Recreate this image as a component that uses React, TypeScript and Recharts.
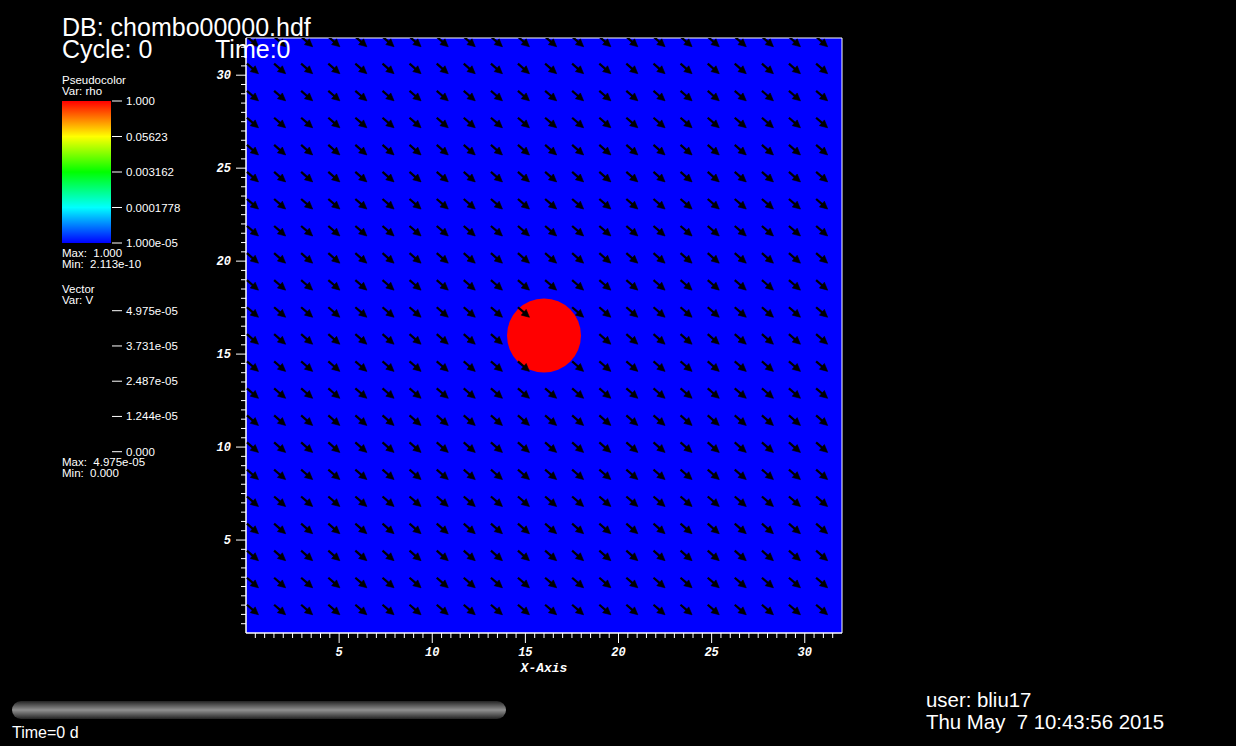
import React from 'react';
import { ScatterChart, Scatter, XAxis, YAxis, ReferenceArea, ReferenceLine } from 'recharts';

// mesh extent, same on both axes
const DOMAIN: [number, number] = [0, 32];
const MAJOR_TICKS = [5, 10, 15, 20, 25, 30];
const MINOR_TICKS = [
  0.5, 1, 1.5, 2, 2.5, 3, 3.5, 4, 4.5, 5, 5.5, 6, 6.5, 7, 7.5, 8, 8.5, 9, 9.5, 10, 10.5,
  11, 11.5, 12, 12.5, 13, 13.5, 14, 14.5, 15, 15.5, 16, 16.5, 17, 17.5, 18, 18.5, 19, 19.5,
  20, 20.5, 21, 21.5, 22, 22.5, 23, 23.5, 24, 24.5, 25, 25.5, 26, 26.5, 27, 27.5, 28, 28.5,
  29, 29.5, 30, 30.5, 31, 31.5,
];

// rho: dense blob in a near-empty box
const BLOB = [{ x: 16, y: 16, rho: 1.0 }];

// vector glyph tails (sampled points)
const ARROW_X = [0.05, 1.51, 2.96, 4.42, 5.87, 7.33, 8.78, 10.24, 11.69, 13.15, 14.6, 16.06, 17.51, 18.97, 20.42, 21.88, 23.33, 24.79, 26.24, 27.7, 29.15, 30.61];
const ARROW_Y = [32.07, 30.62, 29.16, 27.71, 26.25, 24.8, 23.34, 21.89, 20.43, 18.98, 17.52, 16.07, 14.61, 13.16, 11.7, 10.25, 8.79, 7.34, 5.88, 4.43, 2.97, 1.52];
// uniform V field, glyph size in axis units
const GLYPH_U = 0.62;
const GLYPH_V = -0.54;
// [col, row] samples inside the blob where V = 0 (no glyph)
const ZERO_V = [[11, 10], [10, 11], [11, 11], [12, 11], [11, 12]];

// legends
const RHO_LABELS = ['1.000', '0.05623', '0.003162', '0.0001778', '1.000e-05'];
const RHO_VALUES = [1, 0.05623, 0.003162, 0.0001778, 0.00001];
const V_LABELS = ['4.975e-05', '3.731e-05', '2.487e-05', '1.244e-05', '0.000'];
const V_VALUES = [4.975e-5, 3.731e-5, 2.487e-5, 1.244e-5, 0];

const SANS = "'Liberation Sans', Arial, sans-serif";
const MONO = "'Liberation Mono', 'Courier New', monospace";

const arrows: { x: number; y: number; u: number; v: number }[] = [];
ARROW_Y.forEach((y, j) =>
  ARROW_X.forEach((x, i) => {
    if (ZERO_V.some(([c, r]) => c === i && r === j)) return;
    arrows.push({ x, y, u: GLYPH_U, v: GLYPH_V });
  })
);

const ArrowGlyph = (p: any) => {
  const { x1, y1, x2, y2, clipPath } = p;
  const dx = x2 - x1;
  const dy = y2 - y1;
  const len = Math.hypot(dx, dy) || 1;
  const ux = dx / len;
  const uy = dy / len;
  const head = len * 0.5;
  const hw = 3.8;
  const bx = x2 - ux * head;
  const by = y2 - uy * head;
  return (
    <g clipPath={clipPath}>
      <line x1={x1} y1={y1} x2={bx + ux} y2={by + uy} stroke="#000" strokeWidth={2.2} />
      <polygon
        points={`${x2},${y2} ${bx - uy * hw},${by + ux * hw} ${bx + uy * hw},${by - ux * hw}`}
        fill="#000"
        stroke="#000"
        strokeWidth={0.6}
      />
    </g>
  );
};

const XTick = (p: any) => {
  const { x, y, payload } = p;
  const major = MAJOR_TICKS.includes(payload.value);
  return (
    <g>
      <line x1={x} x2={x} y1={y} y2={y + (major ? 10 : 5)} stroke="#fff" />
      {major && (
        <text x={x} y={y + 23} textAnchor="middle" fill="#fff" fontFamily={MONO} fontWeight="bold" fontStyle="italic" fontSize={12}>
          {payload.value}
        </text>
      )}
    </g>
  );
};

const YTick = (p: any) => {
  const { x, y, payload } = p;
  const major = MAJOR_TICKS.includes(payload.value);
  return (
    <g>
      <line x1={x - (major ? 10 : 5)} x2={x} y1={y} y2={y} stroke="#fff" />
      {major && (
        <text x={x - 15} y={y + 4} textAnchor="end" fill="#fff" fontFamily={MONO} fontWeight="bold" fontStyle="italic" fontSize={12}>
          {payload.value}
        </text>
      )}
    </g>
  );
};

const XTitle = (p: any) => {
  const vb = p.viewBox || {};
  return (
    <text x={vb.x + vb.width / 2} y={vb.y + 39} textAnchor="middle" fill="#fff" fontFamily={MONO} fontWeight="bold" fontStyle="italic" fontSize={13}>
      X-Axis
    </text>
  );
};

const T = ({ x, y, size, children, anchor }: any) => (
  <text x={x} y={y} fill="#fff" fontFamily={SANS} fontSize={size} textAnchor={anchor || 'start'} style={{ whiteSpace: 'pre' }}>
    {children}
  </text>
);

const Overlay = () => {
  const barTop = 101;
  const barBot = 243;
  const lmax = Math.log10(RHO_VALUES[0]);
  const lmin = Math.log10(RHO_VALUES[RHO_VALUES.length - 1]);
  const vTop = 310.7;
  const vBot = 451.7;
  const vmax = V_VALUES[0];
  return (
    <svg width={1236} height={746} style={{ position: 'absolute', left: 0, top: 0, pointerEvents: 'none' }}>
      <defs>
        <linearGradient id="rhoBar" x1="0" y1="0" x2="0" y2="1">
          <stop offset="0%" stopColor="#ff0000" />
          <stop offset="25%" stopColor="#ffff00" />
          <stop offset="50%" stopColor="#00ff00" />
          <stop offset="75%" stopColor="#00ffff" />
          <stop offset="100%" stopColor="#0000ff" />
        </linearGradient>
        <linearGradient id="slider" x1="0" y1="0" x2="0" y2="1">
          <stop offset="0%" stopColor="#222" />
          <stop offset="25%" stopColor="#5a5a5a" />
          <stop offset="50%" stopColor="#909090" />
          <stop offset="75%" stopColor="#5a5a5a" />
          <stop offset="100%" stopColor="#222" />
        </linearGradient>
      </defs>

      <T x={62} y={35.5} size={25}>DB: chombo00000.hdf</T>
      <T x={62} y={58} size={25}>Cycle: 0</T>
      <T x={215} y={58} size={25}>Time:0</T>

      <T x={62} y={84} size={11.5}>Pseudocolor</T>
      <T x={62} y={95} size={11.5}>Var: rho</T>
      <rect x={62} y={barTop} width={49} height={barBot - barTop} fill="url(#rhoBar)" />
      {RHO_VALUES.map((v, i) => {
        const ty = barTop + ((lmax - Math.log10(v)) / (lmax - lmin)) * (barBot - barTop);
        return (
          <g key={RHO_LABELS[i]}>
            <line x1={112} x2={122} y1={ty} y2={ty} stroke="#fff" />
            <T x={126} y={ty + 4} size={11.5}>{RHO_LABELS[i]}</T>
          </g>
        );
      })}
      <T x={62} y={256.5} size={11.5}>{'Max:  1.000'}</T>
      <T x={62} y={267.5} size={11.5}>{'Min:  2.113e-10'}</T>

      <T x={62} y={293} size={11.5}>Vector</T>
      <T x={62} y={303.5} size={11.5}>Var: V</T>
      {V_VALUES.map((v, i) => {
        const ty = vBot - (v / vmax) * (vBot - vTop);
        return (
          <g key={V_LABELS[i]}>
            <line x1={112} x2={122} y1={ty} y2={ty} stroke="#fff" />
            <T x={126} y={ty + 4} size={11.5}>{V_LABELS[i]}</T>
          </g>
        );
      })}
      <T x={62} y={466} size={11.5}>{'Max:  4.975e-05'}</T>
      <T x={62} y={477} size={11.5}>{'Min:  0.000'}</T>

      <rect x={12} y={701} width={494} height={18} rx={9} fill="url(#slider)" />
      <T x={12} y={737.5} size={16}>Time=0 d</T>

      <T x={926} y={707} size={20.4}>user: bliu17</T>
      <T x={926} y={729} size={20.4}>{'Thu May  7 10:43:56 2015'}</T>
    </svg>
  );
};

export default function App() {
  return (
    <div style={{ position: 'absolute', left: 0, top: 0, width: 1236, height: 746, background: '#000', overflow: 'hidden' }}>
      <ScatterChart width={1236} height={746} margin={{ top: 38, right: 394, bottom: 73, left: 206 }}>
        <XAxis
          type="number"
          dataKey="x"
          domain={DOMAIN}
          allowDataOverflow
          ticks={MINOR_TICKS}
          interval={0}
          height={40}
          tickSize={0}
          tickMargin={0}
          tickLine={false}
          axisLine={{ stroke: '#fff' }}
          tick={<XTick />}
          label={<XTitle />}
        />
        <YAxis
          type="number"
          dataKey="y"
          domain={DOMAIN}
          allowDataOverflow
          ticks={MINOR_TICKS}
          interval={0}
          width={40}
          tickSize={0}
          tickMargin={0}
          tickLine={false}
          axisLine={{ stroke: '#fff' }}
          tick={<YTick />}
        />
        <ReferenceArea x1={0} x2={32} y1={0} y2={32} fill="#0000ff" fillOpacity={1} stroke="#fff" strokeWidth={1} />
        <Scatter
          data={BLOB}
          isAnimationActive={false}
          shape={(p: any) => <circle cx={p.cx} cy={p.cy} r={37} fill="#ff0000" />}
        />
        {arrows.map((a, k) => (
          <ReferenceLine
            key={k}
            segment={[{ x: a.x, y: a.y }, { x: a.x + a.u, y: a.y + a.v }]}
            ifOverflow="hidden"
            zIndex={700}
            shape={ArrowGlyph}
          />
        ))}
      </ScatterChart>
      <Overlay />
    </div>
  );
}
